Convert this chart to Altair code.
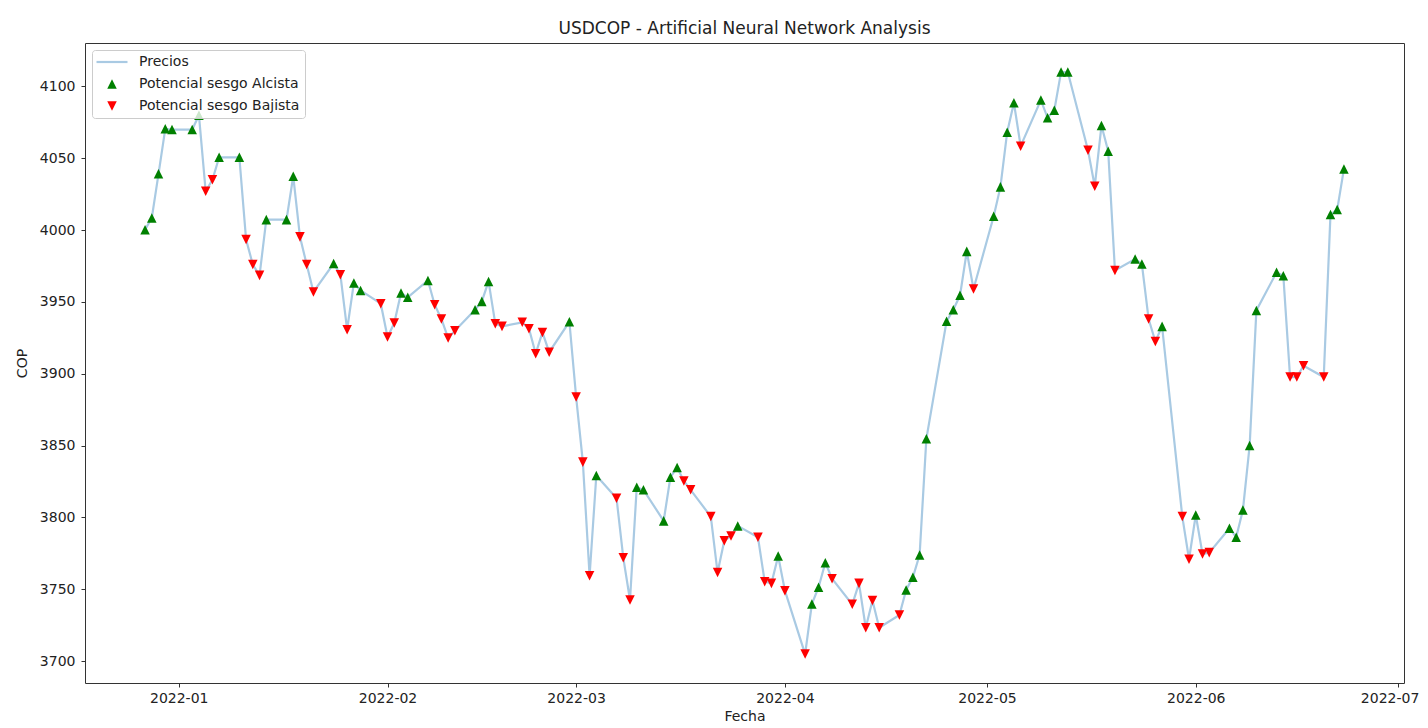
import altair as alt
import pandas as pd

# ---------------- data ----------------
fechas = pd.bdate_range("2021-12-27", "2022-06-23").strftime("%Y-%m-%d").tolist()

precios = [
    4000.3, 4008.5, 4039.2, 4070.5, 4070.0,                 # Dec 27-31
    4070.0, 4080.0, 4027.0, 4035.0, 4050.7,                 # Jan 3-7
    4050.7, 3993.4, 3976.0, 3968.5, 4007.3,                 # Jan 10-14
    4007.3, 4037.5, 3995.3, 3976.0, 3957.0,                 # Jan 17-21
    3976.7, 3969.0, 3930.7, 3963.2, 3958.0,                 # Jan 24-28
    3948.8, 3925.6, 3935.3, 3956.2, 3953.2,                 # Jan 31-Feb 4
    3965.0, 3948.1, 3938.1, 3924.9, 3929.9,                 # Feb 7-11
    3944.6, 3950.4, 3964.3, 3934.8, 3933.0,                 # Feb 14-18
    3935.8, 3931.4, 3914.0, 3928.8, 3915.0,                 # Feb 21-25
    3936.2, 3883.9, 3838.5, 3759.4, 3829.2,                 # Feb 28-Mar 4
    3813.4, 3772.0, 3742.5, 3821.0, 3819.2,                 # Mar 7-11
    3797.6, 3828.0, 3834.7, 3825.4, 3819.2,                 # Mar 14-18
    3800.6, 3761.6, 3783.8, 3787.1, 3794.1,                 # Mar 21-25
    3786.2, 3755.3, 3754.1, 3773.2, 3749.0,                 # Mar 28-Apr 1
    3704.9, 3739.7, 3751.4, 3768.5, 3757.3,                 # Apr 4-8
    3739.5, 3754.1, 3723.2, 3742.2, 3723.2,                 # Apr 11-15
    3732.1, 3749.5, 3758.3, 3773.9, 3854.7,                 # Apr 18-22
    3936.5, 3944.6, 3954.6, 3985.2, 3959.0,                 # Apr 25-29
    4009.6, 4030.1, 4068.2, 4088.6, 4058.4,                 # May 2-6
    4090.5, 4078.2, 4083.5, 4110.0, 4110.0,                 # May 9-13
    4055.6, 4030.5, 4072.8, 4054.9, 3971.9,                 # May 16-20
    3979.9, 3976.4, 3938.1, 3922.5, 3933.0,                 # May 23-27
    3800.6, 3770.9, 3801.7, 3774.6, 3775.5,                 # May 30-Jun 3
    3792.5, 3786.2, 3805.2, 3850.0, 3944.1,                 # Jun 6-10
    3970.6, 3968.3, 3897.7, 3897.7, 3905.6,                 # Jun 13-17
    3897.7, 4010.8, 4014.3, 4042.6,                         # Jun 20-23
]

# A = alcista (up), B = bajista (down)
sesgos = list(
    "AAAAA" "AABBA" "ABBBA" "AABBB" "ABBAA"
    "BBBAA" "ABBBB" "AAABB" "BBBBB" "ABBBA"
    "BBBAA" "AAABB" "BBBBA" "BBBAB" "BAAAB"
    "BBBBB" "BAAAA" "AAAAB" "AAAAB" "AAAAA"
    "BBAAB" "AABBA" "BBABB" "AAAAA" "AABBB"
    "BAAA"
)

series = ["Precios", "Potencial sesgo Alcista", "Potencial sesgo Bajista"]
colores = ["#a9cae3", "green", "red"]
etiqueta = {"A": series[1], "B": series[2]}

y_ticks = [3700, 3750, 3800, 3850, 3900, 3950, 4000, 4050, 4100]

df = pd.DataFrame({
    "fecha": fechas,
    "precio": precios,
    "serie": [etiqueta[s] for s in sesgos],
})

# marker shapes (custom paths so the legend line can be longer than the triangles)
forma_linea = "M-2.214,-0.157L2.214,-0.157L2.214,0.157L-2.214,0.157Z"
forma_sube = "M0,-0.68L0.68,0.68L-0.68,0.68Z"
forma_baja = "M0,0.68L0.68,-0.68L-0.68,-0.68Z"

x_enc = alt.X(
    "fecha:T",
    title="Fecha",
    scale=alt.Scale(
        type="utc",
        domain=[
            alt.DateTime(year=2021, month=12, date=18, hours=2, utc=True),
            alt.DateTime(year=2022, month=7, date=1, hours=22, utc=True),
        ],
    ),
    axis=alt.Axis(
        labelExpr="utcFormat(datum.value, '%Y-%m')",
        values=[alt.DateTime(year=2022, month=m, date=1, utc=True) for m in range(1, 8)],
        grid=False,
        domain=False,
        tickSize=4,
        tickColor="#333333",
        labelFontSize=14,
        labelColor="#222222",
        labelPadding=4,
        labelFlush=10,
        labelFlushOffset=21,
        titleFontSize=14,
        titleFontWeight="normal",
        titleColor="#222222",
        titlePadding=4,
    ),
)

y_enc = alt.Y(
    "precio:Q",
    title="COP",
    scale=alt.Scale(domain=[3684.75, 4130.25], nice=False, zero=False),
    axis=alt.Axis(
        values=y_ticks,
        format="d",
        grid=False,
        domain=False,
        tickSize=4,
        tickColor="#333333",
        labelFontSize=14,
        labelColor="#222222",
        labelPadding=6,
        titleFontSize=14,
        titleFontWeight="normal",
        titleColor="#222222",
        titlePadding=10,
    ),
)

leyenda = dict(
    title=None,
    orient="top-left",
    offset=7,
    padding=5,
    fillColor="rgba(255,255,255,0.8)",
    strokeColor="#cccccc",
    cornerRadius=3,
    labelFontSize=14,
    labelFont="DejaVu Sans",
    labelColor="#222222",
    labelLimit=400,
    symbolSize=196,
    symbolOffset=8,
    labelOffset=20,
    rowPadding=8,
    symbolStrokeWidth=0,
    symbolOpacity=1,
)

base = alt.Chart(df)

linea = base.mark_line(color=colores[0], strokeWidth=2.2).encode(x=x_enc, y=y_enc)

puntos = base.mark_point(filled=True, opacity=1, size=196, strokeWidth=0).encode(
    x=x_enc,
    y=y_enc,
    color=alt.Color(
        "serie:N",
        scale=alt.Scale(domain=series, range=colores),
        legend=alt.Legend(**leyenda),
    ),
    shape=alt.Shape(
        "serie:N",
        scale=alt.Scale(domain=series, range=[forma_linea, forma_sube, forma_baja]),
        legend=alt.Legend(**leyenda),
    ),
)

chart = (
    alt.layer(linea, puntos)
    .properties(
        width=1319,
        height=640,
        title=alt.TitleParams(
            "USDCOP - Artificial Neural Network Analysis",
            fontSize=17,
            fontWeight="normal",
            font="DejaVu Sans",
            color="#222222",
            offset=5,
            anchor="middle",
        ),
        autosize=alt.AutoSizeParams(type="none"),
        padding={"left": 77, "top": 35, "right": 16, "bottom": 45},
    )
    .configure(font="DejaVu Sans")
    .configure_view(stroke="#333333", strokeWidth=1)
)

chart.save("out.html", embed_options={"renderer": "svg", "actions": False})
